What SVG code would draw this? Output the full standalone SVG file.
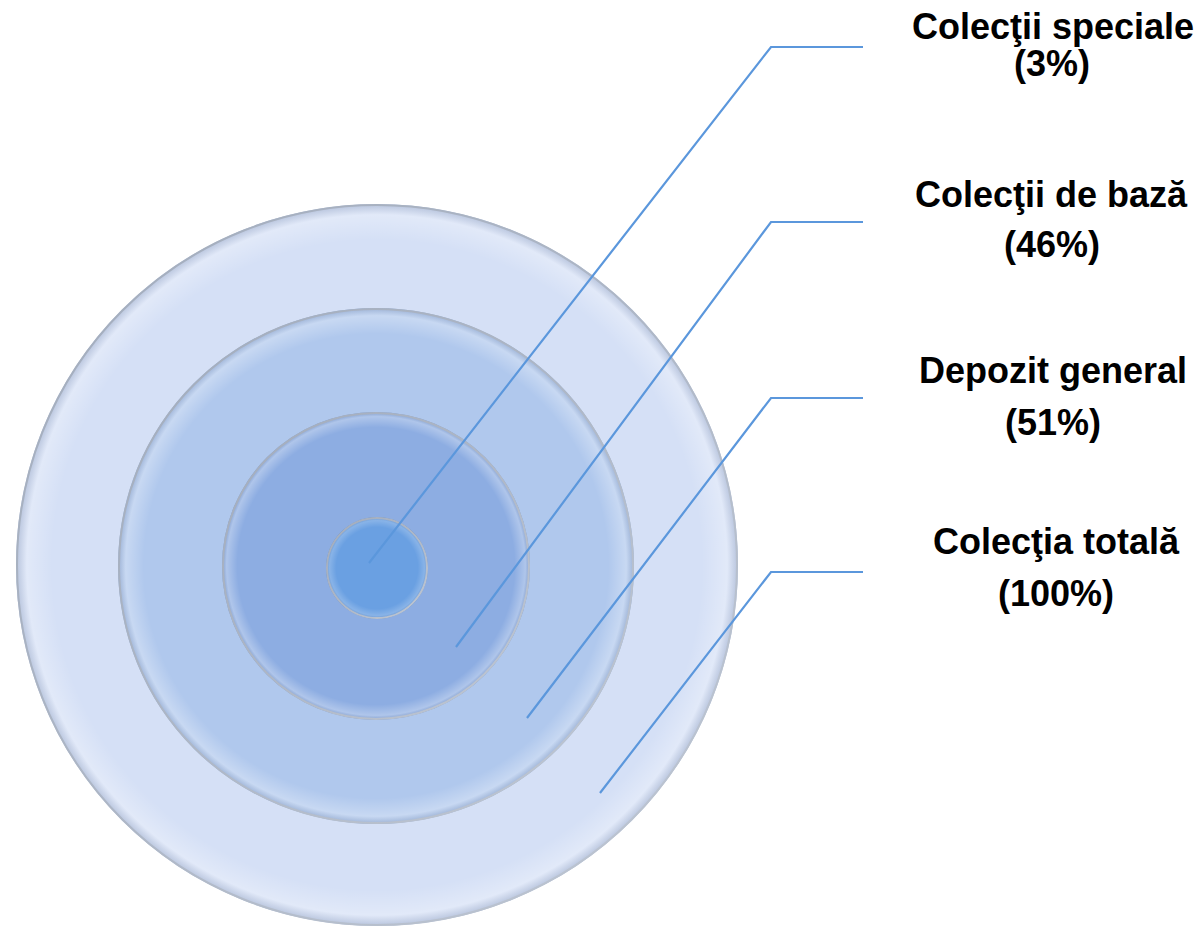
<svg xmlns="http://www.w3.org/2000/svg" width="1204" height="927" viewBox="0 0 1204 927">
<style>
.lbl{font-family:"Liberation Sans",Arial,sans-serif;font-weight:bold;font-size:36px;fill:#000;text-anchor:middle}
.con{fill:none;stroke:#5b97dc;stroke-width:2.2;stroke-linejoin:miter}
.edge{fill:none;stroke:url(#edgeG);stroke-width:2}
</style>
<defs>
<linearGradient id="edgeG" x1="0" y1="0" x2="1" y2="1">
<stop offset="0" stop-color="#a2acbc"/>
<stop offset="0.5" stop-color="#aeb7c6"/>
<stop offset="1" stop-color="#c0c8d4"/>
</linearGradient>
<radialGradient id="shade" cx="0.5" cy="0.5" r="0.5">
<stop offset="0.9" stop-color="#ffffff" stop-opacity="0"/>
<stop offset="0.97" stop-color="#ffffff" stop-opacity="0.3"/>
<stop offset="1" stop-color="#7080a0" stop-opacity="0.3"/>
</radialGradient>
<radialGradient id="shadeS" cx="0.5" cy="0.5" r="0.5">
<stop offset="0.8" stop-color="#ffffff" stop-opacity="0"/>
<stop offset="0.93" stop-color="#ffffff" stop-opacity="0.2"/>
<stop offset="1" stop-color="#506080" stop-opacity="0.3"/>
</radialGradient>
</defs>
<g id="ring-total">
<circle cx="377" cy="565" r="361" fill="#d5e0f6"/>
<circle cx="377" cy="565" r="361" fill="url(#shade)"/>
<circle cx="377" cy="565" r="360" class="edge"/>
</g>
<g id="ring-general">
<circle cx="376" cy="566" r="258" fill="#b0c8ed"/>
<circle cx="376" cy="566" r="258" fill="url(#shade)"/>
<circle cx="376" cy="566" r="257" class="edge"/>
</g>
<g id="ring-baza">
<circle cx="376" cy="566" r="154" fill="#8dade2"/>
<circle cx="376" cy="566" r="154" fill="url(#shade)"/>
<circle cx="376" cy="566" r="153" class="edge"/>
</g>
<g id="ring-speciale">
<circle cx="377" cy="568" r="51" fill="#6aa0e2"/>
<circle cx="377" cy="568" r="51" fill="url(#shadeS)"/>
<circle cx="377" cy="568" r="50" class="edge"/>
</g>
<g id="connectors">
<polyline class="con" points="369,563 771,47 863,47"/>
<polyline class="con" points="456,647 771,222 863,222"/>
<polyline class="con" points="527,718 771,398 863,398"/>
<polyline class="con" points="600,793 771,572 863,572"/>
</g>
<g id="label-speciale">
<text class="lbl" x="1053" y="39">Colecţii speciale</text>
<text class="lbl" x="1052" y="76">(3%)</text>
</g>
<g id="label-baza">
<text class="lbl" x="1051" y="207">Colecţii de bază</text>
<text class="lbl" x="1052" y="257">(46%)</text>
</g>
<g id="label-general">
<text class="lbl" x="1053" y="383">Depozit general</text>
<text class="lbl" x="1053" y="435">(51%)</text>
</g>
<g id="label-total">
<text class="lbl" x="1056" y="554">Colecţia totală</text>
<text class="lbl" x="1056" y="606">(100%)</text>
</g>
</svg>
